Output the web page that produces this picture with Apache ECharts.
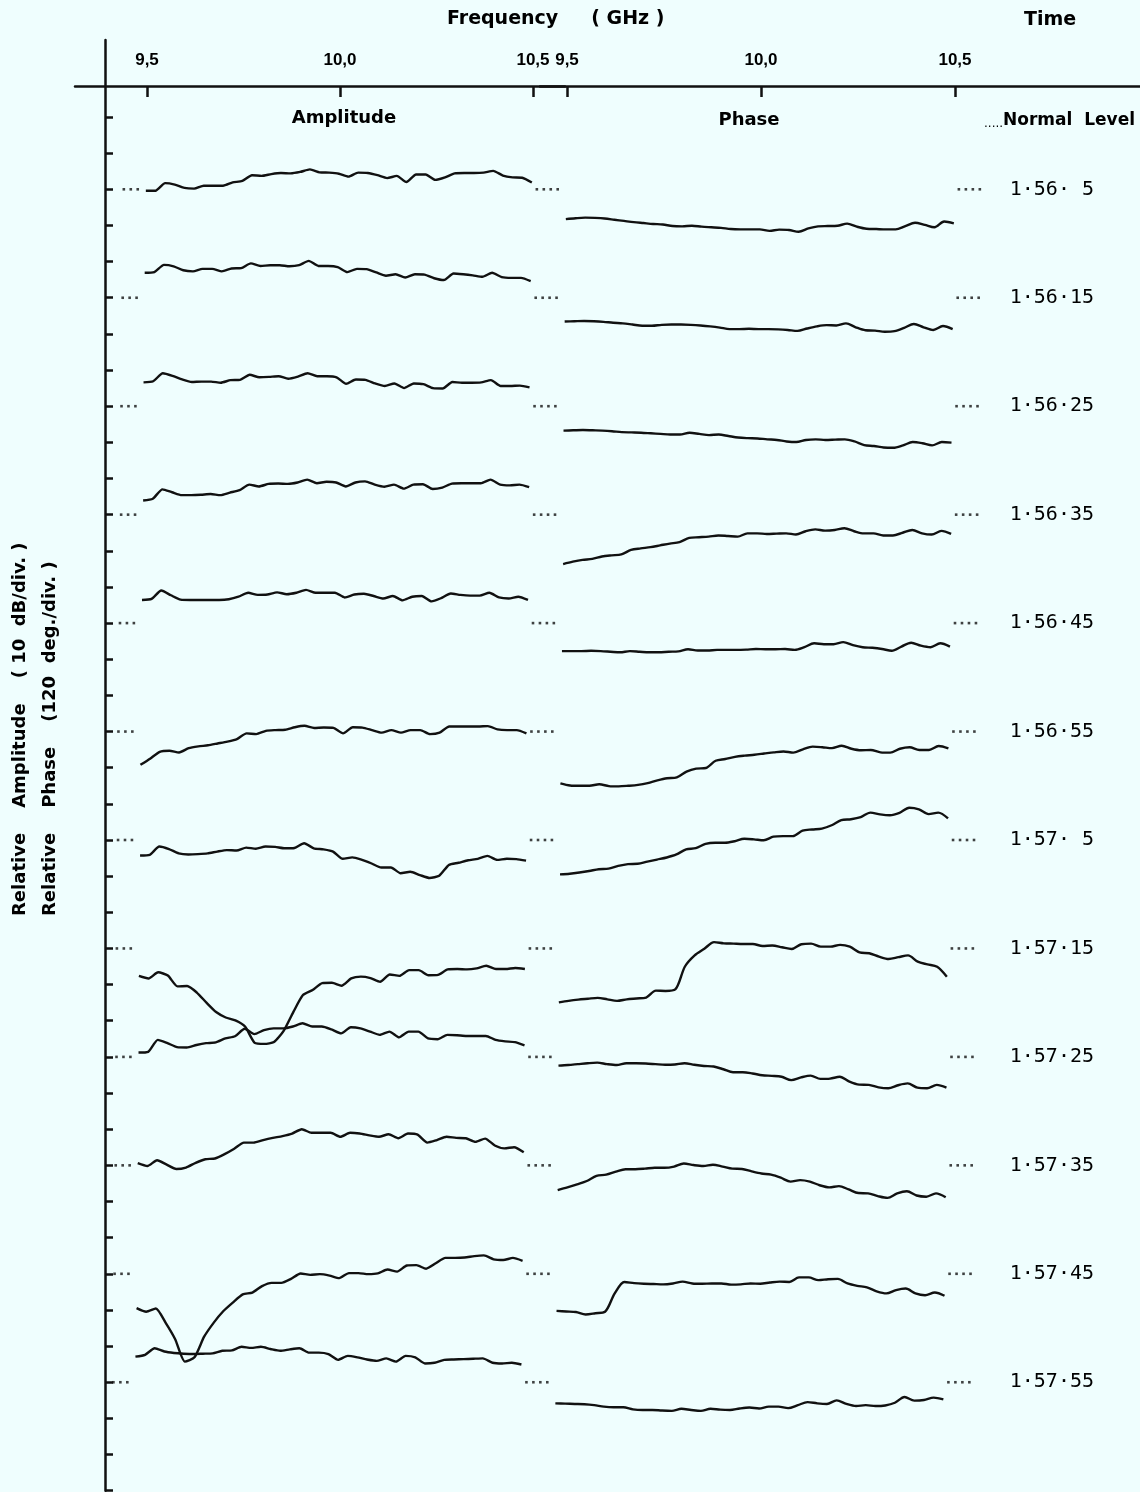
<!DOCTYPE html>
<html><head><meta charset="utf-8">
<script src="https://cdn.jsdelivr.net/npm/echarts@6/dist/echarts.min.js"></script>
<style>html,body{margin:0;padding:0;background:#effefe}#c{width:1140px;height:1492px}</style>
</head><body><div id="c"></div><script>
// ---- data ----
const timeLabels = ['1·56· 5','1·56·15','1·56·25','1·56·35','1·56·45','1·56·55','1·57· 5','1·57·15','1·57·25','1·57·35','1·57·45','1·57·55'];
const freqTicks = [9.5, 10.0, 10.5];          // GHz
const sweepStartGHz = 9.5, sweepStepGHz = 0.025;
const sweepOffsetGHz = [-0.003,-0.006,-0.009,-0.010,-0.013,-0.017,-0.018,-0.021,-0.022,-0.024,-0.027,-0.030];
const normalDotsAmpGHz = [9.443, 9.461, 9.479, 10.513, 10.531, 10.549, 10.567];
const normalDotsPhaseGHz = [10.513, 10.531, 10.549, 10.567];

// relative amplitude (dB, re. normal level)
const amp_1_56_05 = [-0.4,-0.4,1.7,1.3,0.4,0.2,1.0,1.0,1.0,1.9,2.3,3.9,3.7,4.2,4.5,4.4,4.8,5.5,4.7,4.6,4.3,3.5,4.6,4.5,3.9,3.1,3.7,2.0,4.1,4.1,2.6,3.3,4.4,4.5,4.5,4.6,5.1,3.8,3.3,3.2,1.9];
const amp_1_56_15 = [6.9,7.1,9.1,8.7,7.6,7.3,8.0,8.0,7.3,8.1,8.2,9.5,8.8,9.0,9.0,8.7,9.0,10.2,8.8,8.8,8.5,7.1,8.0,7.9,7.0,6.1,6.5,5.6,6.5,6.4,5.4,4.9,6.7,6.5,6.2,5.8,6.9,5.7,5.5,5.5,4.6];
const amp_1_56_25 = [6.6,6.9,9.1,8.4,7.4,6.7,6.8,6.8,6.5,7.2,7.3,8.7,8.0,8.1,8.3,7.6,8.2,9.1,8.3,8.3,8.0,6.2,7.4,7.3,6.3,5.6,6.3,5.0,6.3,6.1,5.0,4.9,6.7,6.5,6.5,6.6,7.2,5.6,5.6,5.7,5.2];
const amp_1_56_35 = [3.9,4.4,7.0,6.2,5.4,5.4,5.5,5.7,5.4,6.1,6.8,8.3,7.8,8.5,8.6,8.5,8.9,9.7,8.7,9.1,8.9,7.8,8.9,9.2,8.3,7.7,8.3,7.2,8.3,8.4,7.1,7.5,8.6,8.7,8.7,8.7,9.7,8.3,8.1,8.3,7.6];
const amp_1_56_45 = [6.4,6.7,9.0,7.7,6.5,6.4,6.4,6.4,6.4,6.6,7.3,8.4,7.8,7.9,8.5,8.0,8.4,9.2,8.4,8.4,8.4,7.1,7.9,8.1,7.5,6.8,7.5,6.3,7.3,7.5,6.0,6.9,8.2,7.8,7.6,7.6,8.4,7.1,6.8,7.3,6.4];
const amp_1_56_55 = [-9.2,-7.5,-5.6,-5.3,-5.8,-4.6,-4.1,-3.8,-3.3,-2.8,-2.1,-0.5,-0.7,0.2,0.4,0.5,1.2,1.6,1.0,1.1,1.0,-0.5,1.2,1.1,0.4,-0.3,0.4,-0.3,0.4,0.4,-0.7,-0.3,1.4,1.4,1.4,1.4,1.5,0.6,0.4,0.4,-0.5];
const amp_1_57_05 = [-4.3,-4.1,-1.8,-2.5,-3.7,-4.0,-3.9,-3.7,-3.2,-2.8,-2.9,-2.1,-2.4,-1.8,-1.9,-2.3,-2.2,-0.9,-2.3,-2.6,-3.2,-5.2,-4.8,-5.5,-6.5,-7.6,-7.6,-9.2,-8.8,-9.7,-10.5,-9.9,-6.9,-6.3,-5.6,-5.2,-4.4,-5.5,-5.2,-5.3,-5.7];
const amp_1_57_15 = [-7.6,-8.3,-6.6,-7.5,-10.5,-10.4,-12.2,-15.0,-17.6,-19.1,-19.9,-21.6,-26.1,-26.4,-25.9,-22.8,-17.6,-12.9,-11.5,-9.6,-9.5,-10.3,-8.3,-7.8,-8.2,-9.2,-7.2,-7.6,-6.0,-6.0,-7.4,-7.3,-5.8,-5.7,-5.8,-5.5,-4.8,-5.7,-5.7,-5.4,-5.7];
const amp_1_57_25 = [1.2,1.4,4.7,3.8,2.7,2.6,3.3,3.8,4.0,5.1,5.7,7.8,6.3,7.4,7.9,7.9,8.4,9.3,8.4,8.4,7.6,6.5,8.2,7.9,7.0,6.1,7.0,5.4,7.0,7.0,5.1,4.9,6.1,6.0,5.8,5.8,5.8,4.7,4.3,4.1,3.2];
const amp_1_57_35 = [0.6,-0.2,1.4,0.2,-1.0,-0.6,0.7,1.7,1.9,3.1,4.6,6.3,6.3,7.0,7.6,8.1,8.8,10.0,9.0,9.0,9.0,7.9,9.0,8.8,8.3,7.9,8.6,7.5,8.8,8.5,6.3,7.0,7.9,7.6,7.5,6.5,7.4,5.5,4.7,5.0,3.6];
const amp_1_57_45 = [-9.5,-10.5,-9.6,-13.5,-18.1,-24.3,-23.1,-17.4,-13.5,-10.3,-7.9,-5.7,-5.2,-3.4,-2.5,-2.5,-1.4,0.1,-0.3,-0.1,-0.5,-1.2,0.2,0.2,-0.1,0.1,1.2,0.6,2.3,2.4,1.4,2.9,4.4,4.4,4.5,4.9,5.1,4.0,3.8,4.4,3.6];
const amp_1_57_55 = [7.1,7.6,9.4,8.5,8.1,7.9,7.8,7.9,8.0,8.7,8.8,9.8,9.5,9.8,9.2,8.7,9.1,9.4,8.2,8.2,7.8,6.2,7.3,6.9,6.3,5.9,6.6,5.7,7.3,6.9,5.2,5.4,6.2,6.3,6.4,6.5,6.6,5.4,5.2,5.4,4.9];

// relative phase (deg, re. normal level)
const ph_1_56_05 = [-99,-96,-94,-95,-97,-101,-105,-109,-112,-115,-117,-122,-123,-121,-124,-126,-128,-132,-133,-133,-133,-138,-134,-135,-141,-130,-123,-122,-121,-114,-124,-131,-132,-133,-133,-122,-111,-118,-126,-107,-113];
const ph_1_56_15 = [-79,-78,-77,-78,-80,-83,-85,-89,-93,-93,-90,-89,-89,-90,-92,-95,-99,-104,-104,-103,-104,-104,-105,-107,-110,-102,-95,-91,-92,-85,-98,-108,-109,-113,-111,-100,-87,-98,-107,-94,-104];
const ph_1_56_25 = [-81,-80,-79,-80,-81,-83,-86,-87,-88,-90,-92,-94,-94,-88,-92,-96,-94,-99,-104,-106,-107,-110,-112,-117,-119,-112,-110,-112,-111,-110,-117,-129,-132,-137,-138,-130,-119,-123,-130,-119,-121];
const ph_1_56_35 = [-164,-156,-150,-147,-139,-135,-132,-117,-112,-108,-102,-96,-91,-77,-75,-73,-69,-71,-73,-62,-62,-64,-63,-62,-66,-55,-49,-53,-51,-45,-55,-62,-62,-69,-69,-60,-51,-62,-66,-54,-64];
const ph_1_56_45 = [-93,-93,-93,-92,-93,-95,-97,-93,-95,-97,-97,-95,-94,-87,-91,-91,-89,-89,-89,-88,-86,-87,-87,-86,-89,-80,-67,-70,-70,-63,-73,-80,-82,-86,-92,-78,-65,-75,-80,-67,-78];
const ph_1_56_55 = [-172,-179,-180,-180,-175,-181,-182,-180,-177,-171,-162,-155,-152,-133,-123,-121,-97,-91,-84,-80,-77,-73,-69,-66,-70,-59,-50,-52,-55,-47,-57,-62,-61,-69,-70,-57,-52,-61,-61,-48,-56];
const ph_1_57_05 = [-114,-112,-108,-103,-97,-95,-86,-80,-79,-72,-65,-58,-48,-31,-27,-13,-9,-9,-4,4,2,-1,11,13,13,31,35,38,49,66,69,76,91,85,82,90,107,102,86,91,72];
const ph_1_57_15 = [-179,-174,-170,-167,-164,-169,-174,-169,-166,-163,-140,-141,-136,-60,-23,-1,21,17,16,15,15,8,10,4,-2,14,16,6,6,12,6,-13,-16,-27,-35,-29,-23,-44,-53,-61,-94];
const ph_1_57_25 = [-29,-27,-24,-21,-19,-24,-27,-21,-21,-22,-24,-26,-25,-21,-26,-30,-32,-41,-51,-51,-55,-61,-63,-66,-77,-68,-62,-73,-72,-66,-82,-92,-93,-101,-104,-94,-88,-102,-104,-93,-102];
const ph_1_57_35 = [-82,-73,-63,-52,-35,-31,-21,-13,-13,-11,-8,-8,-4,6,1,-2,2,-4,-11,-12,-20,-27,-31,-41,-54,-49,-54,-66,-73,-69,-80,-92,-93,-102,-108,-93,-86,-100,-104,-93,-106];
const ph_1_57_45 = [-123,-125,-127,-135,-131,-126,-65,-27,-31,-33,-34,-35,-32,-26,-32,-33,-32,-32,-36,-35,-32,-33,-29,-26,-27,-12,-12,-21,-18,-17,-32,-40,-45,-58,-65,-54,-49,-65,-71,-62,-73];
const ph_1_57_55 = [-70,-71,-72,-73,-76,-81,-83,-83,-90,-92,-92,-94,-95,-88,-92,-95,-88,-91,-92,-87,-84,-87,-81,-81,-86,-76,-66,-70,-72,-60,-72,-79,-76,-79,-77,-68,-49,-61,-59,-51,-57];

const ampRows = [amp_1_56_05,amp_1_56_15,amp_1_56_25,amp_1_56_35,amp_1_56_45,amp_1_56_55,amp_1_57_05,amp_1_57_15,amp_1_57_25,amp_1_57_35,amp_1_57_45,amp_1_57_55];
const phRows = [ph_1_56_05,ph_1_56_15,ph_1_56_25,ph_1_56_35,ph_1_56_45,ph_1_56_55,ph_1_57_05,ph_1_57_15,ph_1_57_25,ph_1_57_35,ph_1_57_45,ph_1_57_55];
const dBperDiv = 10, degPerDiv = 120;

// ---- chart ----
const levelOf = i => 2 + 3 * i;            // normal level in divisions (from top)
const divTicks = []; for (let k = 0; k <= 38; k++) divTicks.push(k);
const levelTicks = timeLabels.map((t, i) => levelOf(i));
const INK = '#111';
const series = [];
ampRows.forEach((row, i) => {
  series.push({type: 'line', xAxisIndex: 0, yAxisIndex: 0, showSymbol: false, silent: true, smooth: 0.2,
    lineStyle: {color: INK, width: 2.4}, clip: false,
    data: row.map((v, k) => [sweepStartGHz + sweepOffsetGHz[i] + k * sweepStepGHz, levelOf(i) - v / dBperDiv])});
});
phRows.forEach((row, i) => {
  series.push({type: 'line', xAxisIndex: 1, yAxisIndex: 1, showSymbol: false, silent: true, smooth: 0.3,
    lineStyle: {color: INK, width: 2.4}, clip: false,
    data: row.map((v, k) => [sweepStartGHz + sweepOffsetGHz[i] + k * sweepStepGHz, levelOf(i) - v / degPerDiv])});
});
const dotsA = [], dotsP = [];
timeLabels.forEach((t, i) => {
  normalDotsAmpGHz.forEach(f => dotsA.push([f + sweepOffsetGHz[i], levelOf(i)]));
  normalDotsPhaseGHz.forEach(f => dotsP.push([f + sweepOffsetGHz[i], levelOf(i)]));
});
series.push({type: 'scatter', xAxisIndex: 0, yAxisIndex: 0, symbol: 'rect', symbolSize: 2.6, silent: true, itemStyle: {color: INK}, data: dotsA});
series.push({type: 'scatter', xAxisIndex: 1, yAxisIndex: 1, symbol: 'rect', symbolSize: 2.6, silent: true, itemStyle: {color: INK}, data: dotsP});

const yMin = -2.13, yMax = 38;
const freqFmt = v => v.toFixed(1).replace('.', ',');
function xAxisCfg(grid, min, max) {
  return {type: 'value', gridIndex: grid, position: 'top', offset: -46, min, max,
    axisLine: {show: true, onZero: false, lineStyle: {color: INK, width: 2.5}},
    axisTick: {show: true, inside: true, length: 11, customValues: freqTicks, lineStyle: {color: INK, width: 2.5}},
    axisLabel: {show: true, customValues: freqTicks, formatter: freqFmt, margin: 17, color: '#000',
      fontFamily: 'Liberation Sans', fontWeight: 'bold', fontSize: 17},
    splitLine: {show: false}};
}
const option = {
  backgroundColor: '#effefe',
  animation: false,
  grid: [
    {left: 75, top: 40, width: 490, height: 1450.7},
    {left: 540, top: 40, width: 600, height: 1450.7}
  ],
  xAxis: [xAxisCfg(0, 9.313472, 10.582902), xAxisCfg(1, 9.430412, 10.976804)],
  yAxis: [
    {type: 'value', gridIndex: 0, inverse: true, min: yMin, max: yMax, position: 'left', offset: -30,
     axisLine: {show: true, onZero: false, lineStyle: {color: INK, width: 2.5}},
     axisTick: {show: true, inside: true, length: 8, customValues: divTicks, lineStyle: {color: INK, width: 2.5}},
     axisLabel: {show: false}, splitLine: {show: false}},
    {type: 'value', gridIndex: 1, inverse: true, min: yMin, max: yMax, position: 'right',
     axisLine: {show: false, onZero: false}, axisTick: {show: false}, splitLine: {show: false},
     axisLabel: {show: true, inside: true, margin: 46, customValues: levelTicks,
       formatter: v => timeLabels[Math.round((v - 2) / 3)] || '',
       fontFamily: 'DejaVu Sans Mono', fontSize: 20, color: '#000', padding: [8, 0, 0, 0]}}
  ],
  graphic: [
    {type: 'text', x: 447, y: 19, style: {text: 'Frequency     ( GHz )', font: 'bold 19px "DejaVu Sans"', fill: '#000', align: 'left', verticalAlign: 'middle'}},
    {type: 'text', x: 1024, y: 20, style: {text: 'Time', font: 'bold 19px "DejaVu Sans"', fill: '#000', align: 'left', verticalAlign: 'middle'}},
    {type: 'text', x: 344, y: 118, style: {text: 'Amplitude', font: 'bold 18px "DejaVu Sans"', fill: '#000', align: 'center', verticalAlign: 'middle'}},
    {type: 'text', x: 749, y: 120, style: {text: 'Phase', font: 'bold 18px "DejaVu Sans"', fill: '#000', align: 'center', verticalAlign: 'middle'}},
    {type: 'text', x: 984, y: 121, style: {text: '{d|.....}{b|Normal  Level}', fill: '#000', align: 'left', verticalAlign: 'middle',
      rich: {d: {font: '12px "DejaVu Sans"', fill: '#000', verticalAlign: 'bottom'}, b: {font: 'bold 17px "DejaVu Sans"', fill: '#000'}}}},
    {type: 'text', x: 20, y: 916, rotation: Math.PI / 2, style: {text: 'Relative    Amplitude    ( 10  dB/div. )', font: 'bold 18px "DejaVu Sans"', fill: '#000', align: 'left', verticalAlign: 'middle'}},
    {type: 'text', x: 50, y: 916, rotation: Math.PI / 2, style: {text: 'Relative    Phase    (120  deg./div. )', font: 'bold 18px "DejaVu Sans"', fill: '#000', align: 'left', verticalAlign: 'middle'}}
  ],
  series
};
const chart = echarts.init(document.getElementById('c'), null, {renderer: 'canvas'});
chart.setOption(option);
</script></body></html>
